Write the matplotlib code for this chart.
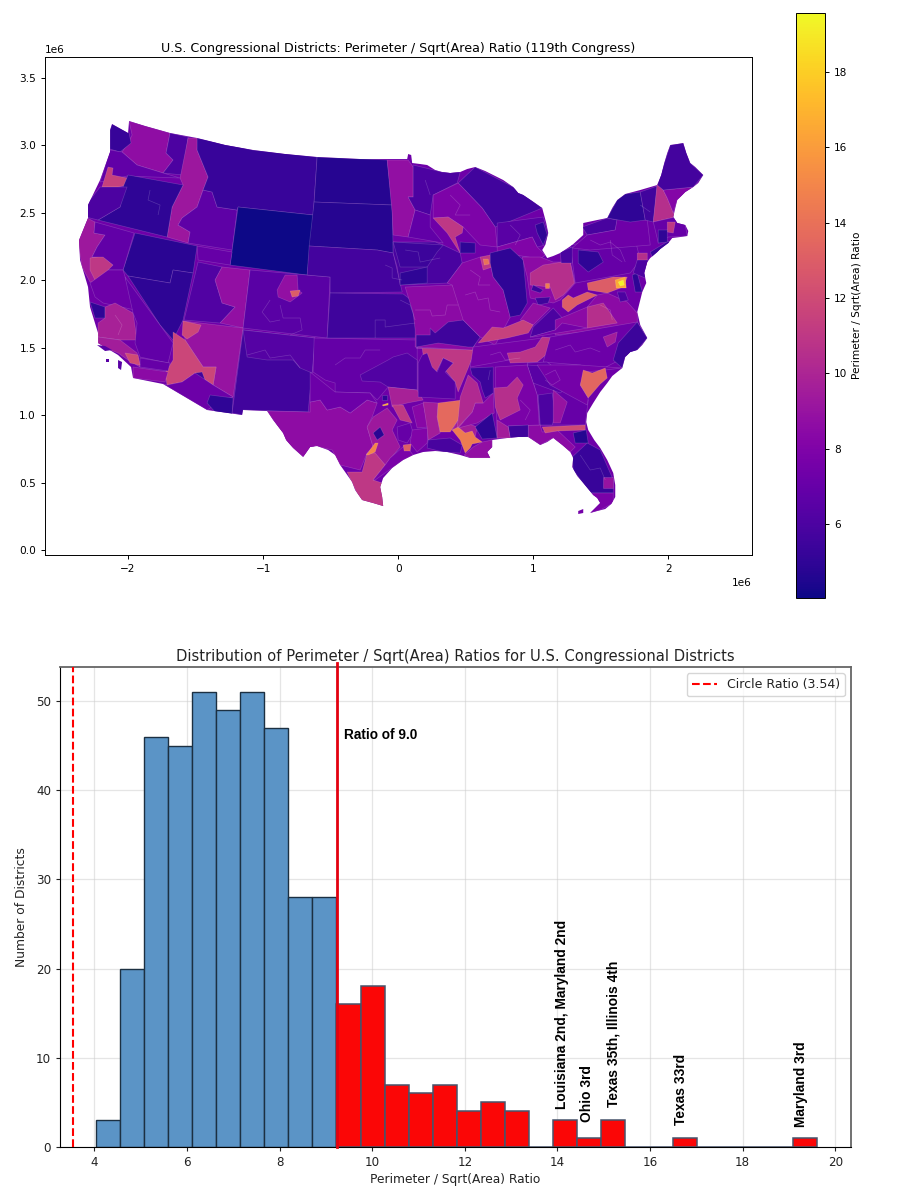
import numpy as np
import matplotlib
matplotlib.use("Agg")
import matplotlib.pyplot as plt
from matplotlib.collections import PolyCollection, LineCollection
from matplotlib.colors import Normalize
from matplotlib.cm import ScalarMappable
from matplotlib.patches import Polygon

# ---------- histogram data ----------
BIN_START = 4.04
BIN_WIDTH = 0.5187
BIN_COUNTS = [3, 20, 46, 45, 51, 49, 51, 47, 28, 28, 16, 18, 7, 6, 7, 4, 5, 4, 0, 3, 1, 3,
              0, 0, 1, 0, 0, 0, 0, 1]
BLUE_BIN_COUNT = 10
CIRCLE_RATIO = 3.54
CUT_LINE = 9.245
LABEL_X = [14.10, 14.64, 15.20, 16.67, 19.26]
LABEL_Y = [4.25, 2.8, 4.5, 2.5, 2.2]
LABEL_TEXT = ["Louisiana 2nd, Maryland 2nd", "Ohio 3rd", "Texas 35th, Illinois 4th",
              "Texas 33rd", "Maryland 3rd"]

# ---------- map data: simplified shapes (trace units) ----------
TRACE_X0, TRACE_Y0, TRACE_PER_M = 398.0, 550.0, 135e-6
NATION = [(129,121),(145,126),(170,133),(197,138),(225,145),(253,150),(285,154),(317,157),(360,159),(407,159),(408,154),
 (411,155),(412,163),(420,164),(427,165),(435,170),(442,172),(450,173),(460,172),(467,169),(475,167),(485,171),
 (493,175),(503,180),(513,187),(518,193),(523,195),(532,201),(542,208),(546,223),(548,233),(545,245),(542,250),
 (547,258),(553,256),(560,253),(572,245),(583,235),(583,223),(597,220),(607,218),(612,208),(617,200),(625,194),
 (640,190),(657,185),(661,175),(664,163),(667,153),(670,145),(677,144),(683,143),(686,153),(690,163),(695,167),
 (703,175),(698,183),(693,187),(685,192),(677,200),(675,208),(673,217),(677,223),(685,225),(688,231),(687,236),
 (680,237),(672,238),(668,243),(660,249),(657,252),(650,258),(647,262),(644,273),(646,283),(642,292),(640,300),
 (637,312),(640,325),(647,338),(642,345),(637,350),(630,352),(625,357),(622,368),(612,376),(607,383),(600,392),
 (593,403),(587,413),(586,422),(588,430),(594,440),(600,448),(607,460),(613,473),(615,485),(615,497),(611,504),
 (605,509),(597,511),(590,513),(600,503),(597,498),(593,495),(588,489),(583,483),(577,476),(572,467),(573,458),
 (570,452),(562,445),(553,438),(547,442),(540,445),(534,441),(528,437),(518,437),(507,438),(492,440),(492,447),
 (487,452),(490,458),(470,458),(460,455),(447,452),(435,451),(423,452),(413,455),(403,460),(392,468),(383,478),
 (380,487),(382,497),(383,506),(373,503),(362,500),(355,490),(352,482),(345,472),(340,465),(335,455),(328,450),
 (317,446),(310,447),(303,457),(293,448),(286,440),(283,433),(273,420),(267,411),(243,410),(242,415),(207,410),
 (185,397),(163,384),(133,378),(131,367),(118,355),(98,343),(98,333),(90,307),(88,287),(80,260),(79,240),(88,218),
 (88,205),(100,180),(110,152),(110,130),(112,124),(128,133)]
NATION_RATIO = 7.3
ISLANDS = [[(97,345),(105,346),(112,350),(105,351)], [(106,359),(109,359),(109,362),(106,362)],
           [(118,360),(122,362),(121,370),(118,368)], [(578,511),(583,509),(583,513),(578,514)]]
ISLAND_RATIOS = [6.5, 6.5, 6.5, 7.5]

DISTRICTS = {
 "WA_C": [(129,121),(170,133),(166,153),(173,160),(163,173),(137,165),(122,152),(128,143),(132,135)],
 "WA_NW": [(112,124),(129,133),(131,143),(120,152),(110,149),(110,130)],
 "WA_E": [(170,133),(188,137),(183,175),(163,173),(173,160),(166,153)],
 "WA_SW": [(110,150),(122,152),(137,165),(163,173),(180,178),(127,176),(100,182)],
 "WA_P": [(108,167),(113,168),(112,175),(127,178),(127,185),(118,187),(102,187)],
 "ID_1": [(188,138),(198,138),(197,150),(208,177),(203,190),(197,207),(182,218),(178,225),(190,232),(188,243),(167,237),(172,207),(183,185),(180,178)],
 "ID_2": [(212,192),(217,207),(237,210),(232,250),(188,243),(190,232),(178,225),(182,218),(197,207),(203,190)],
 "MT": [(197,138),(253,150),(317,157),(313,215),(238,207),(237,210),(217,207),(212,192),(203,190),(208,177),(197,150)],
 "WY": [(238,207),(313,215),(307,275),(230,265)],
 "ND": [(317,157),(387,160),(392,205),(314,202)],
 "SD": [(314,202),(392,205),(393,253),(377,250),(309,246)],
 "OR_E": [(128,175),(183,185),(172,207),(167,237),(98,220),(120,207),(123,187)],
 "OR_W": [(100,187),(127,187),(120,207),(98,220),(86,217),(86,205)],
 "NV_N": [(135,233),(197,246),(193,273),(173,270),(170,283),(128,276),(123,270)],
 "NV_S": [(128,276),(170,283),(173,270),(193,273),(183,320),(173,340),(160,325)],
 "UT_W": [(198,262),(222,267),(215,280),(222,303),(235,307),(220,323),(184,320)],
 "UT_N": [(197,246),(232,252),(230,265),(198,260)],
 "UT_E": [(222,267),(250,270),(243,328),(220,323),(235,307),(222,303),(215,280)],
 "CO": [(250,270),(330,277),(327,338),(243,328)],
 "CO_D": [(277,290),(285,275),(297,275),(298,290),(302,293),(290,302),(278,297)],
 "CO_C": [(290,291),(300,290),(298,296),(292,297)],
 "NE": [(309,246),(377,250),(393,253),(402,292),(330,293),(330,277),(307,275)],
 "KS": [(330,293),(403,294),(415,303),(417,338),(327,338)],
 "AZ_M": [(183,321),(243,328),(233,397),(213,385),(216,367),(203,367),(185,340)],
 "AZ_9": [(173,332),(185,340),(203,367),(216,367),(213,385),(195,373),(182,382),(167,385),(165,373),(173,360)],
 "AZ_N": [(183,321),(201,325),(198,332),(187,339),(182,335)],
 "AZ_PHX": [(195,373),(202,372),(205,380),(198,382)],
 "AZ_S": [(163,384),(167,385),(182,382),(195,373),(213,385),(233,397),(223,400),(207,410)],
 "AZ_7": [(210,395),(233,398),(232,414),(215,412),(207,403)],
 "NM": [(243,330),(315,338),(308,412),(243,410),(242,415),(232,413)],
 "NM_N": [(243,330),(315,338),(312,373),(300,368),(293,360),(267,360),(247,357)],
 "CA_NC": [(87,218),(95,222),(94,233),(105,235),(97,247),(92,257),(103,257),(113,265),(102,283),(90,282),(82,267),(78,242)],
 "CA_SAC": [(90,258),(103,256),(113,265),(103,283),(95,280),(90,270)],
 "CA_NE": [(95,222),(134,233),(123,270),(108,270),(113,265),(103,257),(92,257),(97,247),(105,235),(94,233)],
 "CA_C": [(108,270),(123,270),(135,310),(103,303),(95,297),(90,283)],
 "CA_SF": [(90,302),(105,307),(105,318),(95,318)],
 "CA_V": [(105,307),(115,303),(133,313),(137,340),(120,340),(98,337),(98,323),(105,318)],
 "CA_SE": [(125,277),(173,343),(168,363),(140,357),(135,343),(137,323),(133,313)],
 "CA_LA": [(98,337),(120,340),(137,353),(140,367),(128,360),(118,353),(98,345)],
 "CA_S": [(133,367),(168,372),(165,382),(133,378)],
 "CA_I": [(140,358),(170,363),(168,371),(140,367)],
 "CA_LC": [(125,353),(138,355),(140,365),(130,363)],
 "OK": [(314,338),(417,340),(417,390),(388,387),(377,400),(370,393),(335,392),(335,383),(325,380),(313,372)],
 "OK_E": [(360,375),(388,360),(393,357),(407,353),(417,360),(417,390),(388,387),(380,382),(362,381)],
 "TX_W": [(267,411),(310,412),(310,402),(320,400),(327,410),(340,407),(350,413),(367,400),(377,403),(372,417),(367,427),(373,447),(367,453),(360,470),(340,465),(332,450),(315,446),(303,457),(287,443),(283,435)],
 "TX_N": [(310,372),(335,392),(370,393),(377,403),(367,400),(350,413),(340,407),(327,410),(320,400),(310,402)],
 "TX_C": [(367,427),(373,417),(387,408),(397,420),(392,430),(400,447),(385,465),(373,453),(373,447)],
 "TX_S": [(347,472),(362,472),(367,453),(375,453),(385,465),(373,480),(382,483),(384,507),(360,500),(352,483)],
 "TX_SE": [(375,480),(403,460),(413,455),(405,445),(390,458),(385,465),(373,480)],
 "TX_35": [(366,455),(375,443),(378,443),(375,452),(368,455)],
 "TX_D": [(373,433),(380,427),(384,435),(377,440)],
 "TX_H": [(403,445),(411,444),(410,451),(404,451)],
 "TX_NE": [(388,387),(417,390),(423,400),(407,403),(392,407)],
 "TX_NP": [(392,405),(403,405),(412,423),(400,420)],
 "TX_EH": [(397,427),(410,423),(413,433),(407,443),(398,440)],
 "TX_E1": [(412,407),(423,403),(428,427),(417,428)],
 "TX_E2": [(412,430),(428,428),(427,443),(417,452),(410,443)],
 "TX_DK": [(382,395),(387,395),(387,400),(382,400)],
 "LA_W": [(423,402),(438,403),(437,417),(440,433),(428,440),(427,428)],
 "LA_N": [(438,403),(462,400),(458,420),(450,432),(440,432),(437,417)],
 "LA_SW": [(428,440),(450,438),(462,445),(460,453),(443,452),(427,448)],
 "LA_1": [(464,455),(473,447),(482,442),(492,440),(492,450),(490,458),(470,458)],
 "LA_M": [(458,420),(477,427),(475,437),(465,433),(452,430)],
 "LA_2": [(452,430),(458,427),(465,433),(472,431),(475,437),(482,442),(472,444),(470,448),(465,453),(460,440)],
 "MS_S": [(472,412),(475,403),(483,403),(493,393),(494,413),(477,423),(458,428)],
 "MS_2": [(460,397),(468,375),(477,383),(483,403),(475,403),(472,412),(457,428)],
 "MS_1": [(470,368),(493,367),(493,393),(485,398),(482,390),(480,382),(472,375)],
 "MS_3": [(475,427),(492,413),(497,438),(482,439)],
 "AR": [(416,348),(422,348),(423,355),(420,363),(433,377),(437,370),(443,358),(453,363),(445,370),(455,382),(458,392),(468,368),(475,350)],
 "AR_D": [(418,363),(422,355),(427,353),(432,367),(437,372),(443,358),(453,363),(445,372),(455,382),(455,399),(418,397)],
 "MO": [(405,287),(452,285),(460,300),(480,333),(472,350),(415,347),(415,330),(413,313)],
 "MO_D": [(416,335),(430,335),(430,328),(435,333),(448,322),(463,320),(480,337),(473,347),(468,347),(438,343),(416,347)],
 "IA": [(393,242),(435,242),(443,245),(460,253),(462,263),(447,283),(400,285),(397,267),(393,253)],
 "IA_T": [(393,242),(443,245),(437,252),(427,267),(400,267)],
 "IA_B": [(400,273),(427,267),(427,283),(400,285)],
 "MN_W": [(387,160),(408,160),(413,167),(413,197),(408,197),(415,210),(408,237),(393,235),(392,213)],
 "MN_NE": [(413,165),(442,172),(460,172),(457,183),(433,195),(430,215),(415,210),(408,197),(413,197)],
 "MN_S": [(415,210),(430,215),(430,227),(443,243),(408,237)],
 "MI_UP": [(458,183),(475,167),(513,187),(542,208),(513,220),(495,227),(482,208)],
 "WI": [(433,195),(458,183),(482,208),(495,227),(497,247),(480,245),(463,227),(448,217),(433,218)],
 "WI_P": [(433,218),(448,217),(463,227),(462,233),(455,237),(460,253),(447,233)],
 "WI_D": [(460,242),(475,243),(475,253),(460,253)],
 "MI": [(497,223),(543,217),(548,233),(545,245),(537,247),(532,237),(497,247)],
 "MI_T": [(535,225),(543,222),(547,235),(543,245),(537,233)],
 "MI_SE": [(497,247),(532,237),(537,247),(545,255),(540,259),(497,252)],
 "IL": [(447,283),(462,263),(480,257),(490,263),(493,277),(503,290),(510,317),(495,345),(480,337),(463,320),(452,285)],
 "IL_C": [(480,257),(490,255),(492,267),(483,270)],
 "IL_C2": [(483,259),(488,259),(489,264),(484,265)],
 "IN": [(490,253),(510,248),(523,260),(527,303),(520,315),(510,317),(503,290),(493,277),(490,263)],
 "OH": [(522,257),(540,257),(553,262),(570,262),(575,283),(560,300),(553,303),(530,298),(527,277)],
 "OH_P": [(530,273),(543,265),(562,262),(570,262),(574,283),(563,295),(555,300),(550,287),(530,285)],
 "OH_3": [(545,283),(549,283),(549,288),(545,288)],
 "OH_D1": [(533,285),(543,290),(540,293),(531,290)],
 "OH_D2": [(535,298),(550,297),(548,303),(538,305)],
 "KY_N": [(520,320),(533,303),(550,308),(533,325)],
 "KY_P": [(478,343),(492,327),(503,328),(523,320),(533,325),(528,333),(507,338)],
 "KY_E": [(530,337),(533,327),(553,308),(562,318),(555,330)],
 "VA": [(555,320),(568,315),(587,307),(597,295),(607,293),(627,302),(637,313),(637,323),(600,330),(555,335)],
 "VA_P": [(587,307),(603,303),(617,323),(587,328)],
 "VA_SW": [(530,337),(555,330),(562,323),(587,328),(533,337)],
 "WV_1": [(562,300),(568,295),(573,298),(587,292),(597,295),(577,305),(568,312),(562,307)],
 "WV_2": [(587,283),(613,277),(627,277),(623,287),(607,293),(588,290)],
 "MD_Y": [(615,280),(625,277),(626,288),(616,288)],
 "MD_W": [(618,282),(623,280),(624,285),(620,286)],
 "MD_D": [(617,292),(625,292),(628,300),(620,302)],
 "DE": [(632,275),(637,273),(642,292),(635,292)],
 "PA": [(570,245),(610,238),(635,240),(640,260),(630,273),(575,283)],
 "PA_D": [(578,250),(598,252),(603,262),(588,272),(578,263)],
 "PA_P": [(637,253),(647,253),(647,265),(637,263)],
 "NY_N": [(582,227),(607,218),(617,220),(615,230),(587,235)],
 "NY": [(617,218),(647,220),(650,245),(590,250),(572,248),(587,235),(615,230)],
 "NY_W": [(560,252),(572,247),(572,263),(561,263)],
 "NY_LI": [(650,252),(668,241),(670,244),(652,257)],
 "NJ": [(637,260),(648,260),(645,278),(633,273)],
 "VT": [(607,218),(617,200),(625,194),(640,192),(645,220),(630,222)],
 "NH_W": [(640,192),(657,186),(653,222),(645,220)],
 "NH_P": [(657,182),(663,190),(667,198),(675,217),(653,222)],
 "ME_S": [(663,190),(693,187),(677,200),(673,213),(667,198)],
 "ME_N": [(670,145),(683,143),(690,163),(703,175),(693,187),(663,190),(657,185),(664,163)],
 "MA": [(653,222),(675,217),(685,225),(687,236),(668,237),(658,243),(655,230)],
 "MA_P": [(667,222),(675,222),(673,233),(667,232)],
 "CT": [(658,230),(667,230),(667,242),(658,243)],
 "TN": [(473,347),(550,337),(557,340),(520,358),(470,367)],
 "TN_P": [(507,353),(520,352),(535,347),(542,337),(552,338),(548,353),(537,362),(510,363)],
 "NC": [(550,337),(637,322),(647,338),(625,357),(600,370),(580,365),(543,362)],
 "NC_E": [(618,343),(637,322),(647,338),(637,350),(625,357),(622,368),(613,360)],
 "NC_P": [(603,337),(617,332),(615,342),(607,347)],
 "GA": [(527,363),(547,362),(573,383),(588,400),(585,425),(540,425),(537,395)],
 "GA_N": [(527,365),(570,368),(575,380),(560,393),(533,383)],
 "GA_D": [(538,395),(552,393),(555,415),(552,425),(540,425)],
 "GA_P": [(553,390),(567,402),(560,423),(553,423)],
 "SC": [(580,365),(622,368),(605,370),(585,372),(580,385),(588,398),(587,405),(550,385),(537,365)],
 "SC_O": [(583,370),(592,373),(605,368),(607,378),(600,384),(588,398),(580,385)],
 "FL_PH": [(528,425),(540,425),(542,432),(557,430),(575,447),(570,452),(553,438),(540,445),(528,437)],
 "FL_O": [(542,427),(585,425),(585,430),(557,431),(545,433)],
 "FL_B": [(573,433),(586,430),(588,443),(575,443)],
 "FL_S": [(572,457),(587,443),(600,450),(613,480),(613,493),(590,493),(573,470)],
 "FL_T": [(590,493),(613,493),(613,503),(600,510),(590,513)],
 "FL_P": [(603,477),(613,477),(613,488),(603,488)],
 "AL": [(495,367),(527,365),(537,395),(539,425),(508,426),(510,438),(497,438)],
 "AL_7": [(494,388),(507,387),(517,377),(523,385),(517,398),(520,410),(500,420),(495,407)],
 "AL_S": [(508,426),(528,425),(528,437),(510,438)],
 "AL_W": [(497,420),(508,427),(510,438),(497,438)],
 "TX_33": [(382,405),(388,403),(388,405),(383,406)],
}
RATIOS = {
 "WA_C":8.7,"WA_NW":5.2,"WA_E":6.0,"WA_SW":6.8,"WA_P":11.5,"ID_1":9.2,"ID_2":6.7,"MT":5.3,"WY":4.1,"ND":4.7,"SD":4.7,
 "OR_E":5.0,"OR_W":6.0,"NV_N":4.8,"NV_S":4.9,"UT_W":6.2,"UT_N":7.0,"UT_E":8.8,"CO":6.5,"CO_D":8.8,"CO_C":13.0,
 "NE":5.7,"KS":5.5,"AZ_M":9.0,"AZ_9":11.8,"AZ_N":11.8,"AZ_PHX":5.5,"AZ_S":7.2,"AZ_7":5.0,"NM":5.6,"NM_N":6.3,
 "CA_NC":9.3,"CA_SAC":11.0,"CA_NE":6.8,"CA_C":7.2,"CA_SF":5.0,"CA_V":9.8,"CA_SE":6.8,"CA_LA":9.5,"CA_S":8.5,
 "CA_I":7.0,"CA_LC":12.0,"OK":6.9,"OK_E":6.2,"TX_W":8.6,"TX_N":7.2,"TX_C":9.3,"TX_S":11.0,"TX_SE":7.8,"TX_35":15.0,
 "TX_D":4.8,"TX_H":13.0,"TX_NE":9.8,"TX_NP":11.0,"TX_EH":7.0,"TX_E1":8.3,"TX_E2":8.0,"TX_DK":5.0,"LA_W":9.5,
 "LA_N":13.6,"LA_SW":5.8,"LA_1":8.8,"LA_M":9.5,"LA_2":14.5,"MS_S":8.6,"MS_2":10.2,"MS_1":5.4,"MS_3":4.9,"AR":11.0,
 "AR_D":6.4,"MO":8.5,"MO_D":5.5,"IA":5.9,"IA_T":5.4,"IA_B":5.0,"MN_W":8.8,"MN_NE":6.0,"MN_S":6.8,"MI_UP":5.6,"WI":7.9,
 "WI_P":11.0,"WI_D":5.0,"MI":6.5,"MI_T":5.0,"MI_SE":8.0,"IL":8.3,"IL_C":11.0,"IL_C2":14.0,"IN":5.0,"OH":8.5,"OH_P":10.5,
 "OH_3":14.6,"OH_D1":5.5,"OH_D2":5.5,"KY_N":8.8,"KY_P":11.5,"KY_E":6.0,"VA":8.5,"VA_P":10.5,"VA_SW":7.5,"WV_1":13.0,
 "WV_2":13.0,"MD_Y":16.5,"MD_W":19.3,"MD_D":6.0,"DE":5.0,"PA":7.0,"PA_D":5.0,"PA_P":10.5,"NY_N":5.8,"NY":7.3,"NY_W":5.9,
 "NY_LI":5.2,"NJ":6.0,"VT":5.0,"NH_W":5.6,"NH_P":10.5,"ME_S":8.2,"ME_N":5.7,"MA":7.0,"MA_P":11.0,"CT":5.0,"TN":7.5,
 "TN_P":10.8,"NC":7.2,"NC_E":5.4,"NC_P":9.5,"GA":7.0,"GA_N":6.5,"GA_D":6.0,"GA_P":9.0,"SC":7.5,"SC_O":13.5,"FL_PH":8.5,
 "FL_O":12.0,"FL_B":4.6,"FL_S":5.3,"FL_T":7.8,"FL_P":9.0,"AL":7.8,"AL_7":10.5,"AL_S":5.5,"AL_W":9.5,"TX_33":16.8,
}
# thin inner district borders not covered by the shapes above
BORDER_LINES = [
 [(415,310),(430,310),(432,316),(445,315),(447,305),(458,305)],
 [(465,295),(475,292),(478,300),(488,298),(490,310),(500,312)],
 [(470,270),(480,277),(478,285),(490,285)],
 [(375,338),(375,320),(385,320),(385,327),(400,325),(415,323)],
 [(385,265),(392,268),(392,278),(402,280)],
 [(335,365),(345,358),(360,358),(365,350),(380,350)],
 [(247,355),(265,350),(270,358),(290,355),(300,368)],
 [(280,305),(283,318),(300,318),(302,330),(290,335)],
 [(545,375),(555,370),(560,380),(552,385),(545,380)],
 [(555,350),(570,345),(575,352),(590,348),(600,352)],
 [(490,355),(500,352),(505,360),(520,358)],
 [(600,305),(610,310),(612,320)],
 [(590,240),(600,245),(610,242),(620,250),(625,262)],
 [(510,225),(520,235),(515,245)],
 [(450,195),(460,205),(455,215),(470,215)],
 [(425,180),(430,195)],
 [(115,315),(122,325),(118,335)],
 [(580,455),(590,470),(600,468),(605,480)],
 [(490,370),(488,380)],
 [(270,300),(262,312),(270,322),(280,320)],
 [(150,190),(148,200),(160,205),(158,215)],
 [(400,300),(410,305),(415,320)],
 [(405,250),(418,252),(420,262),(440,258)],
 [(520,400),(530,410),(525,420)],
 [(610,240),(612,255),(622,262)],
 [(640,205),(650,212)],
]
VMIN, VMAX = 4.04, 19.57


def to_metres(points):
    arr = np.asarray(points, dtype=float)
    return np.column_stack(((arr[:, 0] - TRACE_X0) / TRACE_PER_M, (TRACE_Y0 - arr[:, 1]) / TRACE_PER_M))


W, H = 898, 1200
fig = plt.figure(figsize=(W / 100, H / 100), dpi=100)


def place(l, t, r, b):
    return fig.add_axes([l / W, 1 - b / H, (r - l) / W, (b - t) / H])


# ---------- map ----------
ax = place(45, 57, 752, 555)
norm = Normalize(VMIN, VMAX)
cmap = plt.get_cmap("plasma")
edge = (1, 1, 1, 0.18)
nation = Polygon(to_metres(NATION), closed=True, facecolor=cmap(norm(NATION_RATIO)), edgecolor="none")
ax.add_patch(nation)
shapes = PolyCollection([to_metres(DISTRICTS[k]) for k in DISTRICTS], array=np.array([RATIOS[k] for k in DISTRICTS]),
                        cmap=cmap, norm=norm, edgecolors=[edge], linewidths=0.5)
ax.add_collection(shapes)
shapes.set_clip_path(nation)
inner = LineCollection([to_metres(s) for s in BORDER_LINES], colors=[edge], linewidths=0.5)
ax.add_collection(inner)
inner.set_clip_path(nation)
ax.add_collection(PolyCollection([to_metres(s) for s in ISLANDS], array=np.array(ISLAND_RATIOS), cmap=cmap, norm=norm,
                                 edgecolors="none"))
ax.set_xlim(-2.615e6, 2.62e6)
ax.set_ylim(-0.037e6, 3.652e6)
ax.set_xticks(np.array([-2, -1, 0, 1, 2]) * 1e6)
ax.set_yticks(np.arange(0, 3.6, 0.5) * 1e6)
ax.tick_params(labelsize=7.6, length=3, width=0.7)
ax.xaxis.get_offset_text().set_fontsize(7.6)
ax.yaxis.get_offset_text().set_fontsize(7.6)
ax.set_title("U.S. Congressional Districts: Perimeter / Sqrt(Area) Ratio (119th Congress)", fontsize=9.05, pad=3.5)
for s in ax.spines.values():
    s.set_linewidth(0.7)

cax = place(796, 13, 825, 598)
cb = fig.colorbar(ScalarMappable(norm=norm, cmap=cmap), cax=cax)
cb.set_ticks([6, 8, 10, 12, 14, 16, 18])
cb.ax.tick_params(labelsize=7.6, length=3, width=0.7)
cb.set_label("Perimeter / Sqrt(Area) Ratio", fontsize=7.6, labelpad=3)
cb.outline.set_linewidth(0.7)

# ---------- histogram ----------
bx = place(60, 667, 851, 1147)
edges = BIN_START + BIN_WIDTH * np.arange(len(BIN_COUNTS))
bx.bar(edges[:BLUE_BIN_COUNT], BIN_COUNTS[:BLUE_BIN_COUNT], width=BIN_WIDTH, align="edge", color="#5b94c6",
       edgecolor="#1c3042", linewidth=1.0, zorder=2)
bx.bar(edges[BLUE_BIN_COUNT:], BIN_COUNTS[BLUE_BIN_COUNT:], width=BIN_WIDTH, align="edge", color="#fb0606",
       edgecolor="#47536b", linewidth=1.1, zorder=2)
bx.axvline(CIRCLE_RATIO, color="red", ls="--", lw=1.5, label=f"Circle Ratio ({CIRCLE_RATIO})", zorder=3)
bx.plot([CUT_LINE, CUT_LINE], [0, 54.2], color="#e3000f", lw=2, clip_on=False, zorder=3)
bx.text(9.39, 46.2, "Ratio of 9.0", family="Liberation Sans", weight="bold", fontsize=9.85, va="center", ha="left")
for x, y, t in zip(LABEL_X, LABEL_Y, LABEL_TEXT):
    bx.text(x, y, t, rotation=90, family="Liberation Sans", weight="bold", fontsize=9.9, ha="center", va="bottom")
bx.set_xlim(3.255, 20.34)
bx.set_ylim(0, 53.8)
bx.set_xticks(range(4, 21, 2))
bx.set_yticks(range(0, 51, 10))
bx.grid(True, color="#cccccc", alpha=0.5, lw=0.9, zorder=0)
bx.set_axisbelow(True)
bx.tick_params(labelsize=8.6, length=3, width=0.8, colors="#222222")
bx.set_xlabel("Perimeter / Sqrt(Area) Ratio", fontsize=8.8, color="#222222", labelpad=3)
bx.set_ylabel("Number of Districts", fontsize=8.8, color="#222222", labelpad=6)
bx.set_title("Distribution of Perimeter / Sqrt(Area) Ratios for U.S. Congressional Districts", fontsize=10.65,
             color="#222222", pad=4)
for n in ("top", "right"):
    bx.spines[n].set_color("#666666")
    bx.spines[n].set_linewidth(1.3)
leg = bx.legend(loc="upper right", fontsize=9, borderaxespad=0.5)
for t in leg.get_texts():
    t.set_color("#222222")

fig.savefig("out.png", dpi=100)
